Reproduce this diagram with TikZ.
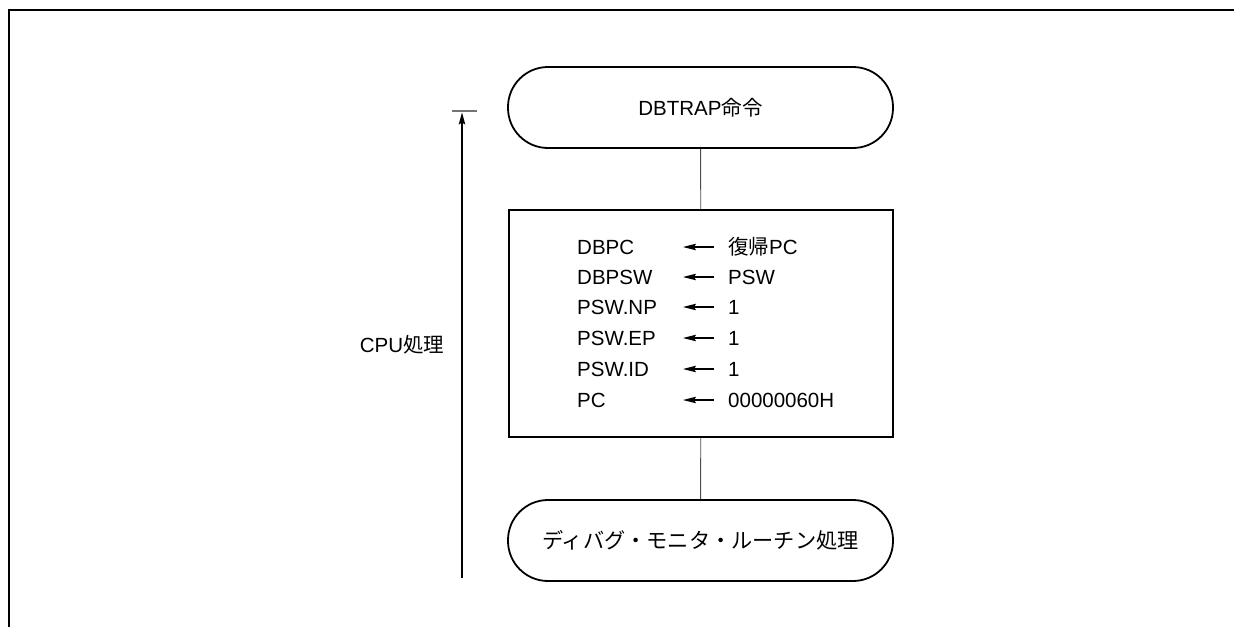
\documentclass[tikz,border=0pt]{standalone}
\usepackage{fontspec}
\setmainfont{Liberation Sans}
\newfontfamily\cjk{Noto Sans CJK JP}
\usetikzlibrary{arrows.meta}
\begin{document}
\begin{tikzpicture}[x=1pt,y=-1pt,
  every node/.style={font=\fontsize{20.5}{24}\selectfont, inner sep=0pt},
  term/.style={draw, line width=1.8pt, rounded corners=40pt, minimum width=385pt, minimum height=81pt},
  procbox/.style={draw, line width=1.8pt, minimum width=384pt, minimum height=227pt},
  conn/.style={line width=0.9pt, draw=black!70},
  asg/.style={line width=1.2pt, -{Stealth[length=13pt,width=6.5pt,inset=2pt]}},
  txt/.style={anchor=west}]
\useasboundingbox (0,0) rectangle (1234,627);
% frame
\draw[line width=2pt] (9,627) -- (9,10) -- (1234,10);
% nodes
\node[term] (top) at (700.5,107.5) {DBTRAP{\cjk 命令}};
\node[procbox] (proc) at (701,323.5) {};
\node[term] (bot) at (700.5,540.5) {\fontsize{21.2}{24}\selectfont\cjk ディバグ・モニタ・ルーチン処理};
\draw[conn] (top) -- (proc);
\draw[conn] (proc) -- (bot);
% rows
\foreach \i/\l/\r/\y in {1/DBPC/{{\cjk 復帰}PC}/247, 2/DBPSW/PSW/277, 3/PSW.NP/1/307, 4/PSW.EP/1/338, 5/PSW.ID/1/369, 6/PC/00000060H/400}{
  \node[txt] (l\i) at (577,\y) {\l};
  \node[txt] (r\i) at (728,\y) {\r};
  \coordinate (s\i) at (714,\y);
  \coordinate (e\i) at (683,\y);
  \draw[asg] (s\i) -- (e\i);
}
% CPU arrow
\coordinate (cb) at (462,578);
\coordinate (ct) at (462,112.5);
\coordinate (barl) at (452,111);
\coordinate (barr) at (477,111);
\draw[line width=1.1pt, -{Stealth[length=12pt,width=6.5pt,inset=2pt]}] (cb) -- (ct);
\draw[line width=1.3pt, draw=black!55] (barl) -- (barr);
\node (cpu) at (402,345) {CPU{\cjk 処理}};
\end{tikzpicture}
\end{document}
